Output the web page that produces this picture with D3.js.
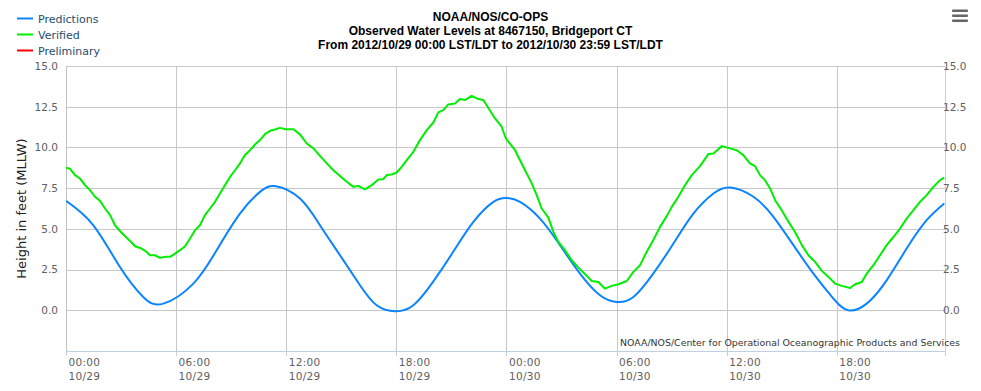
<!DOCTYPE html>
<html>
<head>
<meta charset="utf-8">
<script src="https://cdn.jsdelivr.net/npm/d3@7"></script>
<style>
html,body{margin:0;padding:0;background:#fff;}
svg{display:block;}
</style>
</head>
<body>
<svg id="chart" width="981" height="391"></svg>
<script>
// ---- Data (hours after 2012/10/29 00:00, height in feet MLLW) ----
const titleLines = ["NOAA/NOS/CO-OPS", "Observed Water Levels at 8467150, Bridgeport CT", "From 2012/10/29 00:00 LST/LDT to 2012/10/30 23:59 LST/LDT"];
const legendNames = ["Predictions", "Verified", "Preliminary"];
const legendColors = ["#0a84ff", "#00ee00", "#ff0000"];
const yTicks = [0, 2.5, 5, 7.5, 10, 12.5, 15];
const xTickHours = [0, 6, 12, 18, 24, 30, 36, 42];
const xTickTimes = ["00:00", "06:00", "12:00", "18:00", "00:00", "06:00", "12:00", "18:00"];
const xTickDates = ["10/29", "10/29", "10/29", "10/29", "10/30", "10/30", "10/30", "10/30"];
const yTitle = "Height in feet (MLLW)";
const credit = "NOAA/NOS/Center for Operational Oceanographic Products and Services";

const predHours = [0, 1.49, 2.94, 4.21, 5.3, 6.94, 8.21, 9.48, 10.57, 11.44, 12.75, 13.84, 14.93, 16.02, 16.93, 17.93, 18.93, 20.0, 21.1, 22.2, 23.29, 24.0, 24.74, 25.83, 26.92, 28.01, 29.1, 30.01, 30.92, 32.0, 33.1, 34.19, 35.28, 36.2, 37.46, 38.55, 39.64, 40.73, 41.82, 42.63, 43.63, 44.72, 45.81, 46.9, 47.86];
const predValues = [6.72, 5.22, 2.66, 0.82, 0.41, 1.64, 3.69, 5.94, 7.27, 7.62, 6.86, 5.22, 3.38, 1.54, 0.31, -0.06, 0.31, 1.74, 3.59, 5.43, 6.66, 6.9, 6.66, 5.63, 4.0, 2.25, 0.92, 0.51, 0.82, 2.25, 4.1, 5.94, 7.17, 7.54, 6.97, 5.74, 4.0, 2.25, 0.72, 0.0, 0.41, 1.84, 3.79, 5.53, 6.56];

const verHours = [0, 0.22, 0.49, 0.76, 1.04, 1.31, 1.58, 1.85, 2.13, 2.4, 2.67, 2.94, 3.22, 3.49, 3.76, 4.12, 4.4, 4.58, 4.85, 5.12, 5.4, 5.67, 5.94, 6.21, 6.49, 6.76, 7.03, 7.3, 7.57, 7.85, 8.12, 8.39, 8.66, 8.94, 9.21, 9.48, 9.75, 10.03, 10.3, 10.57, 10.84, 11.12, 11.39, 11.66, 11.97, 12.39, 12.75, 13.12, 13.48, 13.84, 14.21, 14.57, 14.93, 15.3, 15.66, 15.93, 16.29, 16.66, 17.02, 17.29, 17.48, 17.75, 18.02, 18.29, 18.57, 18.93, 19.29, 19.66, 20.02, 20.29, 20.56, 20.83, 21.2, 21.47, 21.74, 22.11, 22.47, 22.74, 23.01, 23.38, 23.74, 23.97, 24.47, 24.92, 25.38, 25.65, 25.92, 26.28, 26.56, 26.83, 27.19, 27.56, 27.92, 28.29, 28.65, 29.01, 29.37, 29.74, 30.1, 30.56, 30.92, 31.28, 31.64, 32.0, 32.37, 32.74, 33.01, 33.37, 33.73, 34.1, 34.55, 35.0, 35.28, 35.74, 36.19, 36.55, 36.91, 37.27, 37.55, 37.82, 38.09, 38.37, 38.64, 39.0, 39.37, 39.73, 40.1, 40.46, 40.82, 41.19, 41.55, 41.91, 42.28, 42.73, 43.0, 43.37, 43.63, 44.0, 44.36, 44.72, 45.09, 45.45, 45.81, 46.18, 46.54, 46.9, 47.27, 47.63, 47.86];
const verValues = [8.75, 8.69, 8.3, 8.09, 7.68, 7.38, 6.97, 6.72, 6.25, 5.84, 5.22, 4.87, 4.55, 4.26, 3.93, 3.79, 3.58, 3.38, 3.38, 3.22, 3.28, 3.28, 3.48, 3.69, 3.93, 4.41, 4.92, 5.22, 5.84, 6.25, 6.66, 7.17, 7.68, 8.19, 8.6, 9.02, 9.53, 9.83, 10.18, 10.45, 10.82, 11.02, 11.1, 11.2, 11.12, 11.12, 10.8, 10.24, 9.94, 9.48, 9.02, 8.6, 8.25, 7.89, 7.58, 7.64, 7.42, 7.68, 8.03, 8.05, 8.3, 8.34, 8.46, 8.81, 9.22, 9.73, 10.45, 11.06, 11.53, 12.15, 12.29, 12.64, 12.7, 12.97, 12.91, 13.17, 12.97, 12.91, 12.44, 11.78, 11.27, 10.55, 9.83, 8.81, 7.79, 7.07, 6.25, 5.7, 4.81, 4.2, 3.69, 3.07, 2.62, 2.21, 1.8, 1.74, 1.33, 1.5, 1.6, 1.8, 2.36, 2.77, 3.58, 4.3, 5.12, 5.78, 6.35, 6.97, 7.68, 8.3, 8.85, 9.59, 9.63, 10.08, 9.94, 9.83, 9.53, 9.02, 8.85, 8.3, 7.99, 7.48, 6.76, 6.15, 5.43, 4.81, 4.0, 3.38, 2.97, 2.42, 2.05, 1.64, 1.5, 1.37, 1.6, 1.74, 2.25, 2.77, 3.38, 4.0, 4.5, 5.02, 5.63, 6.15, 6.66, 7.07, 7.58, 7.99, 8.15];

// ---- Layout ----
const svg = d3.select("#chart");
const pLeft = 66, pRight = 945, pTop = 66, pBottom = 351;
const x = d3.scaleLinear().domain([0, 47.9]).range([pLeft, pRight]);
const y = d3.scaleLinear().domain([-2.5, 15]).range([pBottom, pTop]);

const fontAxis = "'DejaVu Sans', Verdana, sans-serif";
const gridColor = "#c8c8c8";
const axisColor = "#c0d0e0";

// Horizontal gridlines
const yGrid = d3.axisLeft(y).tickValues(yTicks).tickSize(-(pRight - pLeft)).tickFormat("");
svg.append("g").attr("transform", `translate(${pLeft},0)`).call(yGrid)
  .call(g => g.select(".domain").remove())
  .call(g => g.selectAll("line").attr("stroke", gridColor).attr("shape-rendering", "crispEdges"));

// Vertical gridlines
const xGrid = d3.axisBottom(x).tickValues(xTickHours).tickSize(-(pBottom - pTop)).tickFormat("");
svg.append("g").attr("transform", `translate(0,${pBottom})`).call(xGrid)
  .call(g => g.select(".domain").remove())
  .call(g => g.selectAll("line").attr("stroke", gridColor).attr("shape-rendering", "crispEdges"));

// Left axis labels
const yLeft = d3.axisLeft(y).tickValues(yTicks).tickSize(0).tickPadding(8).tickFormat(d3.format(".1f"));
svg.append("g").attr("transform", `translate(${pLeft},0)`).call(yLeft)
  .call(g => g.select(".domain").attr("stroke", "#c0c0c0").attr("shape-rendering", "crispEdges"))
  .call(g => g.selectAll("text").attr("fill", "#606060").style("font-family", fontAxis).style("font-size", "10.5px"));

// Right axis labels
const yRight = d3.axisRight(y).tickValues(yTicks).tickSize(0).tickPadding(-2).tickFormat(d3.format(".1f"));
svg.append("g").attr("transform", `translate(${pRight},0)`).call(yRight)
  .call(g => g.select(".domain").attr("stroke", axisColor).attr("shape-rendering", "crispEdges"))
  .call(g => g.selectAll("text").attr("fill", "#606060").style("font-family", fontAxis).style("font-size", "10.5px"));

// Bottom axis
const xAxis = d3.axisBottom(x).tickValues(xTickHours).tickSize(5).tickFormat("");
const gx = svg.append("g").attr("transform", `translate(0,${pBottom})`).call(xAxis);
gx.select(".domain").attr("stroke", axisColor).attr("shape-rendering", "crispEdges");
gx.selectAll("line").attr("stroke", axisColor).attr("shape-rendering", "crispEdges");
gx.selectAll(".tick").each(function(d, i) {
  const t = d3.select(this).append("text")
    .attr("x", 2).attr("fill", "#606060").attr("text-anchor", "start")
    .style("font-family", fontAxis).style("font-size", "10.5px").style("letter-spacing", "0.3px");
  t.append("tspan").attr("x", 2).attr("y", 15).text(xTickTimes[i]);
  t.append("tspan").attr("x", 2).attr("y", 29).text(xTickDates[i]);
});

// Clip
svg.append("clipPath").attr("id", "clip").append("rect")
  .attr("x", pLeft).attr("y", pTop - 5).attr("width", pRight - pLeft).attr("height", pBottom - pTop + 5);

const line = d3.line().x(d => x(d[0])).y(d => y(d[1]));
const predData = predHours.map((h, i) => [h, predValues[i]]);
const verData = verHours.map((h, i) => [h, verValues[i]]);

svg.append("path").datum(predData).attr("clip-path", "url(#clip)")
  .attr("d", line.curve(d3.curveNatural))
  .attr("fill", "none").attr("stroke", legendColors[0]).attr("stroke-width", 2)
  .attr("stroke-linejoin", "round");
svg.append("path").datum(verData).attr("clip-path", "url(#clip)")
  .attr("d", line.curve(d3.curveLinear))
  .attr("fill", "none").attr("stroke", legendColors[1]).attr("stroke-width", 2)
  .attr("stroke-linejoin", "round");

// Credit
svg.append("text").attr("x", 960).attr("y", 345.5).attr("text-anchor", "end")
  .attr("fill", "#333").style("font-family", fontAxis).style("font-size", "9.4px").text(credit);

// Y title
svg.append("text").attr("transform", `translate(26,208.5) rotate(-90)`).attr("text-anchor", "middle")
  .attr("fill", "#222").style("font-family", fontAxis).style("font-size", "13px").text(yTitle);

// Title
const title = svg.append("text").attr("text-anchor", "middle").attr("fill", "#000")
  .style("font-family", "'Liberation Sans', Arial, sans-serif").style("font-weight", "bold").style("font-size", "12px");
titleLines.forEach((s, i) => title.append("tspan").attr("x", 490.5).attr("y", 20.5 + i * 14).text(s));

// Legend
const lg = svg.append("g");
legendNames.forEach((n, i) => {
  const cy = 18.5 + i * 16;
  lg.append("line").attr("x1", 17).attr("x2", 33).attr("y1", cy).attr("y2", cy)
    .attr("stroke", legendColors[i]).attr("stroke-width", 2);
  lg.append("text").attr("x", 38).attr("y", cy + 4).attr("fill", "#274b6d")
    .style("font-family", fontAxis).style("font-size", "11px").text(n);
});

// Menu icon
[10.7, 15.7, 20.7].forEach(yy => {
  svg.append("rect").attr("x", 952).attr("y", yy - 1.25).attr("width", 16).attr("height", 2.5)
    .attr("rx", 1).attr("fill", "#666");
});
</script>
</body>
</html>
